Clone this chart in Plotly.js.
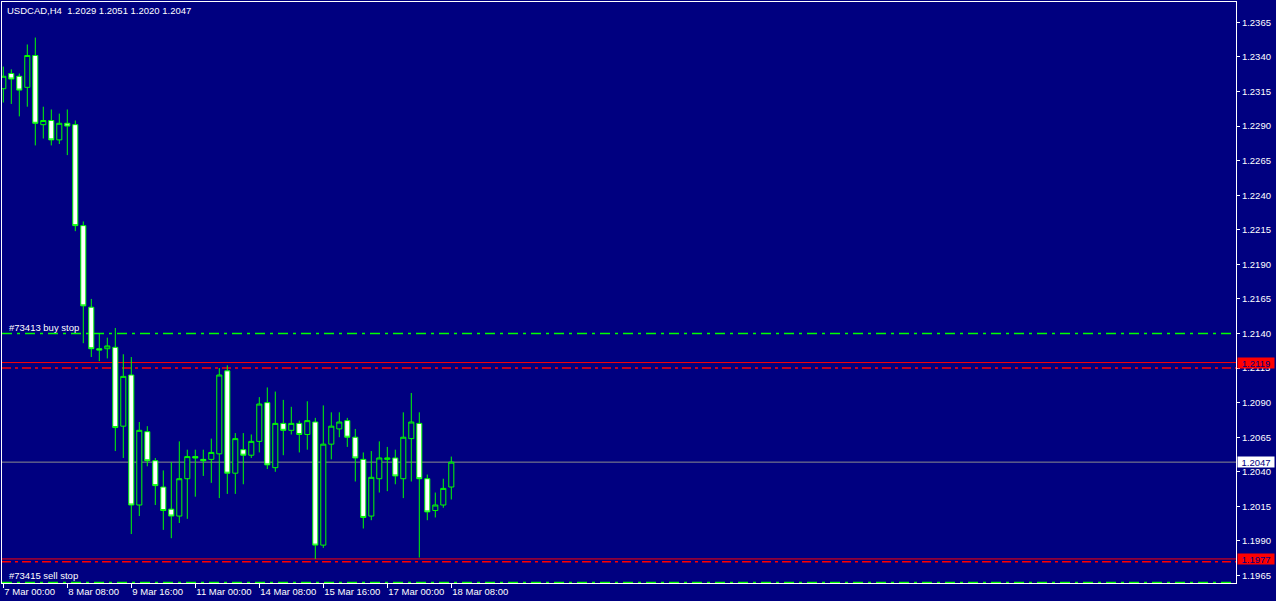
<!DOCTYPE html>
<html><head><meta charset="utf-8">
<script src="https://cdn.plot.ly/plotly-3.0.1.min.js"></script>
<style>html,body{margin:0;padding:0;background:#000080;overflow:hidden}</style>
</head><body><div id="chart" style="width:1276px;height:601px"></div>
<script>
const symbolTitle = "USDCAD,H4\u00a0 1.2029 1.2051 1.2020 1.2047";

const open  = [1.2317,1.2328,1.2326,1.2318,1.2341,1.2291,1.2294,1.2280,1.2292,1.2291,
               1.2218,1.2159,1.2129,1.2129,1.2130,1.2073,1.2110,1.2016,1.2069,1.2048,
               1.2029,1.2013,1.2008,1.2035,1.2051,1.2049,1.2049,1.2053,1.2113,1.2039,
               1.2056,1.2052,1.2062,1.2090,1.2043,1.2075,1.2070,1.2075,1.2067,1.2076,
               1.1987,1.2060,1.2071,1.2077,1.2065,1.2049,1.2008,1.2035,1.2049,1.2050,
               1.2035,1.2064,1.2075,1.2035,1.2012,1.2016,1.2029];
const high  = [1.2333,1.2331,1.2328,1.2349,1.2354,1.2304,1.2302,1.2299,1.2302,1.2294,
               1.2221,1.2165,1.2140,1.2137,1.2144,1.2125,1.2123,1.2076,1.2073,1.2050,
               1.2041,1.2047,1.2062,1.2056,1.2056,1.2056,1.2064,1.2115,1.2117,1.2068,
               1.2068,1.2067,1.2094,1.2101,1.2098,1.2092,1.2087,1.2077,1.2091,1.2079,
               1.2088,1.2083,1.2083,1.2079,1.2071,1.2054,1.2055,1.2062,1.2058,1.2056,
               1.2083,1.2097,1.2083,1.2038,1.2025,1.2035,1.2051];
const low   = [1.2307,1.2306,1.2297,1.2304,1.2276,1.2281,1.2276,1.2277,1.2269,1.2214,
               1.2133,1.2123,1.2120,1.2122,1.2055,1.2050,1.1995,1.2008,1.2044,1.2016,
               1.1998,1.1992,1.2003,1.2006,1.2022,1.2037,1.2032,1.2021,1.2024,1.2024,
               1.2031,1.2050,1.2054,1.2042,1.2040,1.2052,1.2067,1.2054,1.2056,1.1977,
               1.1985,1.2049,1.2065,1.2058,1.2033,1.1999,1.2005,1.2025,1.2026,1.2031,
               1.2021,1.2033,1.1978,1.2005,1.2007,1.2014,1.2020];
const close = [1.2326,1.2324,1.2316,1.2341,1.2292,1.2294,1.2280,1.2292,1.2290,1.2218,
               1.2160,1.2129,1.2128,1.2131,1.2072,1.2109,1.2016,1.2070,1.2048,1.2030,
               1.2012,1.2008,1.2035,1.2051,1.2050,1.2048,1.2054,1.2110,1.2039,1.2064,
               1.2052,1.2062,1.2089,1.2045,1.2075,1.2070,1.2075,1.2067,1.2077,1.1987,
               1.2060,1.2073,1.2076,1.2065,1.2050,1.2007,1.2036,1.2050,1.2050,1.2037,
               1.2065,1.2076,1.2035,1.2011,1.2016,1.2028,1.2047];

const tickIndex  = [0, 8, 16, 24, 32, 40, 48, 56];
const tickLabels = ["7 Mar 00:00","8 Mar 08:00","9 Mar 16:00","11 Mar 00:00",
                    "14 Mar 08:00","15 Mar 16:00","17 Mar 00:00","18 Mar 08:00"];

const currentPrice = 1.2047;
const hLineLevels  = [1.2119, 1.1977];
const stopLevels   = [1.2115, 1.1975];
const orderLevels  = [1.2140, 1.1960];
const orderLabels  = ["#73413 buy stop", "#73415 sell stop"];

const NAVY = "#000080", GREEN = "#00ff00", FONT = "Liberation Sans, Arial, sans-serif";
const barIndex = open.map((_, i) => i);

const candles = {
  type: "candlestick", x: barIndex, open: open, high: high, low: low, close: close,
  increasing: {line: {color: GREEN, width: 1}, fillcolor: NAVY},
  decreasing: {line: {color: GREEN, width: 1}, fillcolor: "#ffffff"},
  whiskerwidth: 0, hoverinfo: "skip", showlegend: false
};

const shapes = [];
const hl = (y, color, dash, w) => shapes.push({type: "line", xref: "paper", x0: 0, x1: 1, yref: "y", y0: y, y1: y,
  line: {color: color, width: w, dash: dash}, layer: "below"});
hl(currentPrice, "#8c8c8c", "solid", 1);
hLineLevels.forEach(v => hl(v, "#ff0000", "solid", 1));
stopLevels.forEach(v => hl(v, "#ff0000", "9px,4px,3px,4px", 1.5));
orderLevels.forEach(v => hl(v, "#00ff00", "10px,5px,3px,5px", 1.5));

const annotations = [];
annotations.push({xref: "paper", yref: "paper", x: 0, y: 1, xanchor: "left", yanchor: "top", xshift: 3, yshift: -1,
  text: symbolTitle, showarrow: false, font: {family: FONT, size: 9.5, color: "#ffffff"}});
orderLevels.forEach((v, i) => annotations.push({xref: "paper", yref: "y", x: 0, y: v, xanchor: "left", yanchor: "bottom",
  xshift: 5, yshift: -1, text: orderLabels[i], showarrow: false, font: {family: FONT, size: 9.5, color: "#ffffff"}}));
const priceTag = (v, bg) => annotations.push({xref: "paper", yref: "y", x: 1, y: v, xanchor: "left", yanchor: "middle",
  xshift: 1, text: v.toFixed(4), showarrow: false, bgcolor: bg, width: 36, height: 10, borderpad: 0,
  font: {family: FONT, size: 9.5, color: NAVY}});
hLineLevels.forEach(v => priceTag(v, "#ff0000"));
priceTag(currentPrice, "#ffffff");

const layout = {
  width: 1276, height: 601,
  paper_bgcolor: NAVY, plot_bgcolor: NAVY,
  margin: {l: 2, r: 40, t: 2, b: 18},
  showlegend: false, boxgap: 0.3, boxgroupgap: 0.1,
  font: {family: FONT, size: 9.5, color: "#ffffff"},
  xaxis: {
    type: "linear", range: [-0.1625, 154.0875], rangeslider: {visible: false},
    showgrid: false, zeroline: false, showline: true, mirror: true, linecolor: "#ffffff", linewidth: 1,
    tickmode: "array", tickvals: tickIndex, ticktext: tickLabels, tickangle: 0,
    ticks: "outside", ticklen: 4, tickcolor: "#ffffff", ticklabelposition: "outside right",
    ticklabelstandoff: 0,
    tickfont: {family: FONT, size: 9.5, color: "#ffffff"}, fixedrange: true
  },
  yaxis: {
    side: "right", range: [1.19596, 1.23797],
    showgrid: false, zeroline: false, showline: true, mirror: true, linecolor: "#ffffff", linewidth: 1,
    tick0: 1.1965, dtick: 0.0025, tickformat: ".4f",
    ticks: "outside", ticklen: 3, tickcolor: "#ffffff",
    tickfont: {family: FONT, size: 9.5, color: "#ffffff"}, fixedrange: true
  },
  shapes: shapes, annotations: annotations
};

Plotly.newPlot("chart", [candles], layout, {displayModeBar: false, staticPlot: true});
</script></body></html>
